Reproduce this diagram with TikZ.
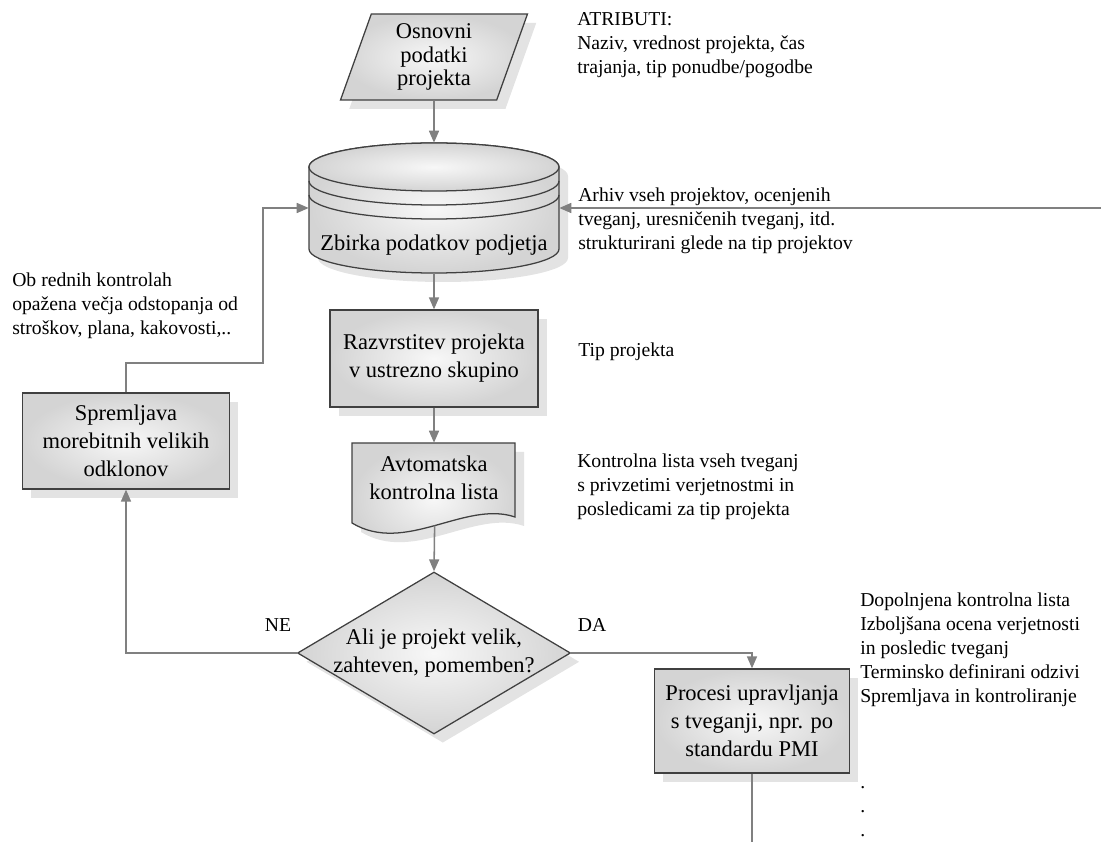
\documentclass[tikz,border=0pt]{standalone}
\usepackage{fontspec}
\setmainfont{Liberation Serif}
\usepackage{tikz}
\usetikzlibrary{shapes,arrows,positioning,calc,shadows,arrows.meta}

\newcommand{\flowtext}{\fontsize{16}{20}\selectfont}
\newcommand{\sidetext}{\fontsize{14}{17}\selectfont}

\tikzset{
  shape fill/.style={draw=black!75, line width=0.9pt, inner color=black!3, outer color=black!17},
  shade box/.style={shape fill, drop shadow={shadow xshift=0.22cm, shadow yshift=-0.22cm, fill=black!11, opacity=1}},
  process/.style={shade box, rectangle, align=center, font=\flowtext, inner sep=2pt},
  flow/.style={draw=black!50, line width=1.1pt, ->},
  plain line/.style={draw=black!50, line width=1.1pt},
  side note/.style={anchor=north west, inner sep=0pt, align=left, font=\sidetext}
}

\begin{document}
\begin{tikzpicture}[auto, >={Triangle[length=0.3cm,width=0.25cm]}]
   \useasboundingbox (0,0) rectangle (27.525,-21.05);

   % Input data
   \node[shade box, trapezium, trapezium left angle=65, trapezium right angle=115,
         trapezium stretches body, minimum width=4.675cm, minimum height=2.15cm,
         align=center, inner sep=0pt, font=\fontsize{16}{16.5}\selectfont]
         (data) at (10.85,-1.425) {Osnovni\\podatki\\projekta};

   % Database (cylinder)
   \fill[black!11] (7.95,-4.4) -- (7.95,-6.45) arc[start angle=180, end angle=360, x radius=3.125cm, y radius=0.6cm]
        -- (14.2,-4.4) arc[start angle=0, end angle=180, x radius=3.125cm, y radius=0.6cm] -- cycle;
   \path[shape fill] (7.725,-4.175) -- (7.725,-6.225) arc[start angle=180, end angle=360, x radius=3.125cm, y radius=0.6cm]
        -- (13.975,-4.175) arc[start angle=0, end angle=180, x radius=3.125cm, y radius=0.6cm] -- cycle;
   \draw[shape fill] (10.85,-4.175) ellipse[x radius=3.125cm, y radius=0.6cm];
   \draw[black!75, line width=0.9pt] (7.725,-4.525) arc[start angle=180, end angle=360, x radius=3.125cm, y radius=0.6cm];
   \draw[black!75, line width=0.9pt] (7.725,-4.875) arc[start angle=180, end angle=360, x radius=3.125cm, y radius=0.6cm];
   \node[minimum width=6.25cm, minimum height=3.25cm, inner sep=0pt] (db) at (10.85,-5.2) {};
   \node[font=\flowtext] (dbname) at (10.85,-6.125) {Zbirka podatkov podjetja};

   % Classification
   \node[process, minimum width=5.2cm, minimum height=2.425cm] (sort) at (10.85,-8.9625)
        {Razvrstitev projekta\\v ustrezno skupino};

   % Document (checklist)
   \fill[black!11] (9.025,-11.3) -- (13.1,-11.3) -- (13.1,-13.15)
        .. controls (11.85,-12.725) and (10.35,-14.1) .. (9.025,-13.3) -- cycle;
   \path[shape fill] (8.8,-11.075) -- (12.875,-11.075) -- (12.875,-12.925)
        .. controls (11.625,-12.5) and (10.125,-13.875) .. (8.8,-13.075) coordinate[pos=0.5] (docb) -- cycle;
   \node[minimum width=4.075cm, minimum height=1.725cm, align=center, font=\flowtext] (doc) at (10.85,-11.9375)
        {Avtomatska\\kontrolna lista};

   % Decision
   \node[shade box, diamond, minimum width=6.825cm, minimum height=4.05cm, inner sep=0pt] (q) at (10.85,-16.325) {};
   \node[align=center, font=\flowtext] (qtext) at (q) {Ali je projekt velik,\\zahteven, pomemben?};

   % Monitoring and risk processes
   \node[process, minimum width=5.175cm, minimum height=2.4cm] (mon) at (3.15,-11.025)
        {Spremljava\\morebitnih velikih\\odklonov};
   \node[process, minimum width=4.875cm, minimum height=2.6cm] (proc) at (18.8,-18.025)
        {Procesi upravljanja\\s tveganji, npr. po\\standardu PMI};

   % Connections
   \coordinate (arch) at (27.525,-5.2);
   \coordinate (bend) at (6.575,-9.075);
   \coordinate (exit) at (18.8,-21.05);
   \draw[flow] (data) -- (db.north);
   \draw[flow] (arch) -- (db.east);
   \draw[flow] (db.south) -- (sort.north);
   \draw[flow] (sort.south) -- (doc.north);
   \draw[flow] (docb) -- (q.north);
   \draw[flow] (q.west) -| (mon.south);
   \draw[flow] (q.east) -| (proc.north);
   \draw[flow] (mon.north) |- (bend) |- (db.west);
   \draw[plain line] (proc.south) -- (exit);
   \node[font=\sidetext] (no) at (6.95,-15.625) {NE};
   \node[font=\sidetext] (yes) at (14.8,-15.625) {DA};

   % Side notes
   \node[side note] (attr) at (14.425,-0.3) {ATRIBUTI:\\Naziv, vrednost projekta, čas\\trajanja, tip ponudbe/pogodbe};
   \node[side note] (arh) at (14.45,-4.7) {Arhiv vseh projektov, ocenjenih\\tveganj, uresničenih tveganj, itd.\\strukturirani glede na tip projektov};
   \node[side note] (obs) at (0.3,-6.825) {Ob rednih kontrolah\\opažena večja odstopanja od\\stroškov, plana, kakovosti,..};
   \node[side note] (tip) at (14.45,-8.575) {Tip projekta};
   \node[side note] (kl) at (14.425,-11.35) {Kontrolna lista vseh tveganj\\s privzetimi verjetnostmi in\\posledicami za tip projekta};
   \node[side note] (res) at (21.5,-14.825) {Dopolnjena kontrolna lista\\Izboljšana ocena verjetnosti\\in posledic tveganj\\Terminsko definirani odzivi\\Spremljava in kontroliranje\\[44pt].\\.\\.};
\end{tikzpicture}
\end{document}
